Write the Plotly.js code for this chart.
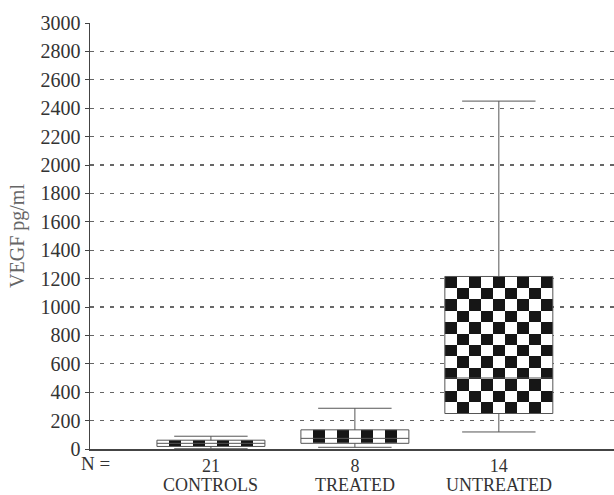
<!DOCTYPE html>
<html>
<head>
<meta charset="utf-8">
<script src="https://cdn.plot.ly/plotly-3.0.1.min.js"></script>
<style>html,body{margin:0;padding:0;background:#fff;}#chart{width:614px;height:495px;}</style>
</head>
<body>
<div id="chart"></div>
<script>
// ---- data ----
var categories = ["CONTROLS", "TREATED", "UNTREATED"];
var groupN = [21, 8, 14];
var lowerWhisker = [2, 12, 120];
var q1Values = [18, 40, 250];
var medianValues = [40, 75, 500];
var q3Values = [62, 135, 1215];
var upperWhisker = [90, 287, 2450];
var yTickValues = [0, 200, 400, 600, 800, 1000, 1200, 1400, 1600, 1800, 2000, 2200, 2400, 2600, 2800, 3000];

// ---- style ----
var BOX_WIDTH = 0.75;
var CHECK_COLS = 9;
var CHECK_ROW_UNITS = 80;
var serif = "Liberation Serif, Times New Roman, serif";
var PLOT_TOP = 23, PLOT_BOTTOM = 449;
function paperY(px) { return (PLOT_BOTTOM - px) / (PLOT_BOTTOM - PLOT_TOP); }

var positions = categories.map(function (c, i) { return i; });
var nText = groupN.map(function (n) { return String(n); });

var traces = [];

// checkerboard fill of each box (built from the quartiles)
positions.forEach(function (p, g) {
  var x0 = p - BOX_WIDTH / 2;
  var xs = [];
  for (var i = 0; i <= CHECK_COLS; i++) xs.push(x0 + i * BOX_WIDTH / CHECK_COLS);
  var rows = Math.max(1, Math.round((q3Values[g] - q1Values[g]) / CHECK_ROW_UNITS));
  var ys = [];
  for (var j = 0; j <= rows; j++) ys.push(q1Values[g] + j * (q3Values[g] - q1Values[g]) / rows);
  var z = [];
  for (var r = 0; r < rows; r++) {
    var row = [];
    for (var c = 0; c < CHECK_COLS; c++) row.push((r + c) % 2);
    z.push(row);
  }
  traces.push({
    type: "heatmap", x: xs, y: ys, z: z,
    zmin: 0, zmax: 1, showscale: false, hoverinfo: "skip",
    colorscale: [[0, "#ffffff"], [1, "#161616"]]
  });
});

traces.push({
  type: "box",
  x: positions,
  q1: q1Values,
  median: medianValues,
  q3: q3Values,
  lowerfence: lowerWhisker,
  upperfence: upperWhisker,
  width: BOX_WIDTH,
  whiskerwidth: 0.68,
  boxpoints: false,
  fillcolor: "rgba(0,0,0,0)",
  line: { color: "#555", width: 1 },
  hoverinfo: "skip",
  showlegend: false
});

var annotations = [{
  text: "N =", xref: "x", yref: "paper", x: -0.805, y: paperY(463),
  xanchor: "center", yanchor: "middle", showarrow: false,
  font: { family: serif, size: 19, color: "#333" }
}];
categories.forEach(function (c, i) {
  annotations.push({
    text: c, xref: "x", yref: "paper", x: positions[i], y: paperY(485),
    xanchor: "center", yanchor: "middle", showarrow: false,
    font: { family: serif, size: 18, color: "#333" }
  });
});

var layout = {
  width: 614, height: 495,
  margin: { l: 90, r: 0, t: PLOT_TOP, b: 495 - PLOT_BOTTOM },
  paper_bgcolor: "#fff", plot_bgcolor: "#fff",
  showlegend: false,
  font: { family: serif, color: "#333" },
  xaxis: {
    range: [-0.84, 2.8],
    tickvals: positions,
    ticktext: nText,
    tickfont: { family: serif, size: 18, color: "#333" },
    showgrid: false, zeroline: false,
    showline: true, linecolor: "#444", linewidth: 1.5,
    ticks: "", ticklen: 0, ticklabelstandoff: 0
  },
  yaxis: {
    range: [0, 3000],
    tickvals: yTickValues,
    tickfont: { family: serif, size: 20, color: "#333" },
    showgrid: true, gridcolor: "#666", gridwidth: 1.3, griddash: "4px,6px",
    zeroline: false,
    showline: true, linecolor: "#444", linewidth: 1.5,
    ticks: "outside", ticklen: 4, tickcolor: "#444",
    title: { text: "VEGF pg/ml", font: { family: serif, size: 20, color: "#666" }, standoff: 10 }
  },
  annotations: annotations
};

Plotly.newPlot("chart", traces, layout, { displayModeBar: false, staticPlot: true });
</script>
</body>
</html>
